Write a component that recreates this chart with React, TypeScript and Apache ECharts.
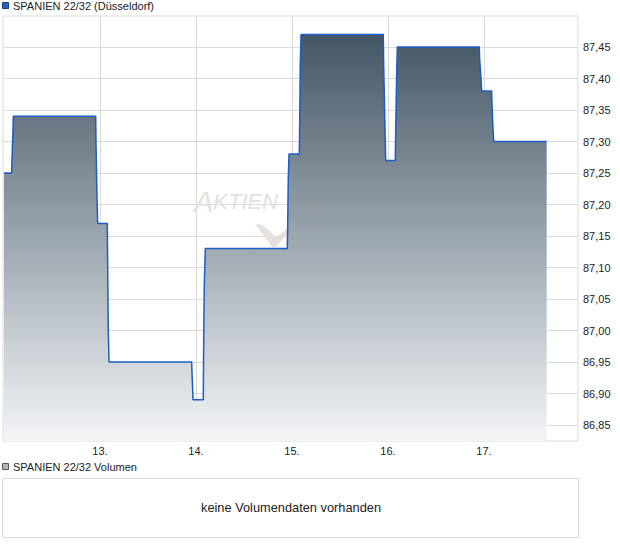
import React, { useEffect, useRef } from "react";
import * as echarts from "echarts";

const title = "SPANIEN 22/32 (Düsseldorf)";
const volumeTitle = "SPANIEN 22/32 Volumen";
const noVolumeText = "keine Volumendaten vorhanden";

// time as day-of-month + fraction of day
const times = [
  12.0, 12.08, 12.083, 12.094, 12.097, 12.955, 12.958, 12.969, 12.976,
  13.076, 13.079, 13.086, 13.094, 13.955, 13.958, 13.969,
  14.076, 14.079, 14.086, 14.097, 14.951, 14.955, 14.961, 14.969,
  15.076, 15.08, 15.086, 15.094, 15.951, 15.955, 15.969, 15.976,
  16.076, 16.08, 16.09, 16.097, 16.951, 16.955, 16.969, 16.976,
  17.08, 17.083, 17.094, 17.101, 17.653,
];
const prices = [
  87.25, 87.25, 87.27, 87.32, 87.34, 87.34, 87.3, 87.21, 87.17,
  87.17, 87.12, 87.0, 86.95, 86.95, 86.935, 86.89,
  86.89, 86.965, 87.07, 87.13, 87.13, 87.165, 87.24, 87.28,
  87.28, 87.33, 87.42, 87.47, 87.47, 87.42, 87.32, 87.27,
  87.27, 87.315, 87.405, 87.45, 87.45, 87.43, 87.4, 87.38,
  87.38, 87.36, 87.32, 87.3, 87.3,
];
const yTicks = [86.85, 86.9, 86.95, 87.0, 87.05, 87.1, 87.15, 87.2, 87.25, 87.3, 87.35, 87.4, 87.45];
const xTicks = [13, 14, 15, 16, 17];

const FONT = 'Arial, "Liberation Sans", sans-serif';

export default function App() {
  const ref = useRef<HTMLDivElement>(null);
  useEffect(() => {
    if (!ref.current) return;
    const chart = echarts.init(ref.current, undefined, { renderer: "svg" });
    const data = times.map((t, i) => [t, prices[i]]);
    chart.setOption({
      animation: false,
      backgroundColor: "#ffffff",
      textStyle: { fontFamily: FONT },
      grid: {
        left: 3,
        right: 42,
        top: 16,
        bottom: 105,
        show: true,
        borderColor: "#dadada",
        borderWidth: 1,
        backgroundColor: "transparent",
      },
      xAxis: {
        type: "value",
        min: 12 - 1 / 96,
        max: 12 - 1 / 96 + 575 / 96,
        axisLine: { show: false },
        axisTick: { show: false, customValues: xTicks },
        axisLabel: {
          customValues: xTicks,
          formatter: (v: number) => `${Math.round(v)}.`,
          color: "#222",
          fontSize: 11,
          fontFamily: FONT,
          margin: 4,
        },
        splitLine: { show: true, lineStyle: { color: "#dadada", width: 1 } },
      },
      yAxis: {
        type: "value",
        position: "right",
        min: 86.85 - 16 / 630,
        max: 87.45 + 31 / 630,
        axisLine: { show: false },
        axisTick: { show: false, customValues: yTicks },
        axisLabel: {
          customValues: yTicks,
          formatter: (v: number) => v.toFixed(2).replace(".", ","),
          color: "#222",
          fontSize: 11,
          fontFamily: FONT,
          margin: 5,
        },
        splitLine: { show: true, lineStyle: { color: "#dadada", width: 1 } },
      },
      series: [
        {
          type: "line",
          data,
          showSymbol: false,
          symbol: "none",
          z: 3,
          lineStyle: { color: "#1c5cc6", width: 1.5 },
          areaStyle: {
            origin: "start",
            opacity: 1,
            color: new echarts.graphic.LinearGradient(0, 0, 0, 1, [
              { offset: 0, color: "#445665" },
              { offset: 1, color: "#f3f5f7" },
            ]),
          },
        },
      ],
      graphic: [
        {
          type: "rect",
          shape: { x: 2.5, y: 2.5, width: 6, height: 6 },
          style: { fill: "#2a62c4", stroke: "#1a3a7a", lineWidth: 1 },
        },
        {
          type: "text",
          x: 13,
          y: 6,
          style: { text: title, fill: "#222", font: `11px ${FONT}`, verticalAlign: "middle" },
        },
        {
          type: "text",
          x: 194,
          y: 216,
          z: 1,
          style: {
            text: "{a|A}{b|KTIEN}",
            verticalAlign: "bottom",
            rich: {
              a: { fontSize: 29, fontStyle: "italic", fill: "#e6e1dc", fontFamily: FONT },
              b: { fontSize: 22, fontStyle: "italic", fill: "#e6e1dc", fontFamily: FONT },
            },
            fill: "#e6e1dc",
          },
        },
        {
          type: "polygon",
          z: 1,
          shape: {
            points: [
              [255, 224], [263, 225], [276, 237], [288, 228], [288, 233], [276, 247], [272, 247],
            ],
          },
          style: { fill: "#e6e1dc" },
        },
        {
          type: "rect",
          shape: { x: 2.5, y: 463.5, width: 6, height: 6 },
          style: { fill: "#b4b4b4", stroke: "#555", lineWidth: 1 },
        },
        {
          type: "text",
          x: 13,
          y: 467,
          style: { text: volumeTitle, fill: "#222", font: `11px ${FONT}`, verticalAlign: "middle" },
        },
        {
          type: "rect",
          shape: { x: 2.5, y: 478.5, width: 576, height: 59 },
          style: { fill: "#fff", stroke: "#dadada", lineWidth: 1 },
        },
        {
          type: "text",
          x: 291,
          y: 507,
          style: {
            text: noVolumeText,
            fill: "#222",
            font: `12.8px ${FONT}`,
            align: "center",
            verticalAlign: "middle",
          },
        },
      ],
    });
    return () => chart.dispose();
  }, []);
  return (
    <div
      ref={ref}
      style={{ position: "fixed", left: 0, top: 0, width: 620, height: 546 }}
    />
  );
}
